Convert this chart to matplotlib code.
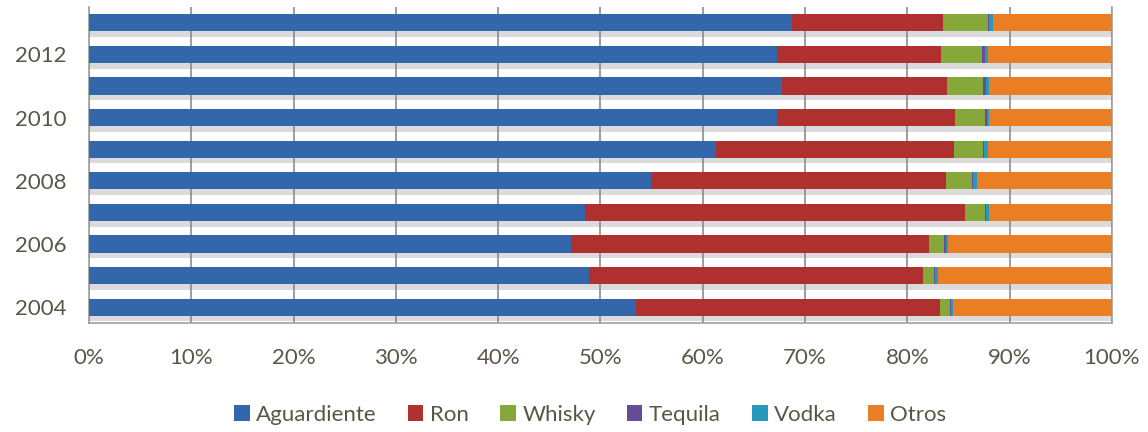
import matplotlib
matplotlib.use("Agg")
import matplotlib.pyplot as plt
import matplotlib.patheffects as pe
from matplotlib.patches import Patch
import numpy as np

years = [2004, 2005, 2006, 2007, 2008, 2009, 2010, 2011, 2012, 2013]
aguardiente = [53.5, 48.9, 47.1, 48.5, 54.9, 61.3, 67.3, 67.7, 67.3, 68.7]
ron = [29.7, 32.6, 35.0, 37.1, 28.9, 23.3, 17.4, 16.2, 16.0, 14.8]
whisky = [1.0, 1.1, 1.5, 2.0, 2.5, 2.8, 2.9, 3.5, 4.0, 4.4]
tequila = [0.1, 0.1, 0.15, 0.1, 0.1, 0.1, 0.15, 0.3, 0.3, 0.1]
vodka = [0.2, 0.3, 0.2, 0.3, 0.4, 0.4, 0.25, 0.3, 0.3, 0.4]
otros = [15.5, 17.0, 16.05, 12.0, 13.2, 12.1, 12.0, 12.0, 12.1, 11.6]

series = [
    ("Aguardiente", aguardiente, "#3366AA"),
    ("Ron", ron, "#B0302F"),
    ("Whisky", whisky, "#86A83A"),
    ("Tequila", tequila, "#674B96"),
    ("Vodka", vodka, "#2899BE"),
    ("Otros", otros, "#EA7E24"),
]

text_col = "#5A5646"
plt.rcParams["font.family"] = ["Lato", "DejaVu Sans"]

fig = plt.figure(figsize=(11.48, 4.32), dpi=100)
ax = fig.add_axes([0.0775, 0.2523, 0.8911, 0.7315])

y = np.arange(len(years))
left = np.zeros(len(years))
shadow = [pe.SimplePatchShadow(offset=(0, -4), shadow_rgbFace="#888888", alpha=0.3), pe.Normal()]
handles = []
for name, vals, col in series:
    vals = np.array(vals)
    ax.barh(y, vals, left=left, height=0.55, color=col,
            zorder=3, path_effects=shadow)
    left += vals
    handles.append(Patch(facecolor=col, label=name))

ax.set_xlim(0, 100)
ax.set_ylim(-0.5, len(years) - 0.5)
ax.set_xticks(np.arange(0, 101, 10))
ax.set_xticklabels([f"{v}%" for v in range(0, 101, 10)])
ax.set_yticks(y[::2])
ax.set_yticklabels([str(v) for v in years[::2]])
ax.tick_params(axis="both", length=0, labelsize=16, labelcolor=text_col)
ax.tick_params(axis="x", pad=18)
ax.tick_params(axis="y", pad=16)

ax.grid(axis="x", color="#8C8C8C", linewidth=1.2, zorder=0)
ax.spines["top"].set_visible(False)
for s in ["left", "bottom", "right"]:
    ax.spines[s].set_color("#A0A0A0")
    ax.spines[s].set_linewidth(1.2)

ax.legend(handles=handles, loc="center", bbox_to_anchor=(0.49, -0.29), ncol=6,
          frameon=False, fontsize=16, labelcolor=text_col, handlelength=0.7,
          handleheight=0.7, handletextpad=0.3, columnspacing=1.4)

fig.savefig("out.png", dpi=100)
